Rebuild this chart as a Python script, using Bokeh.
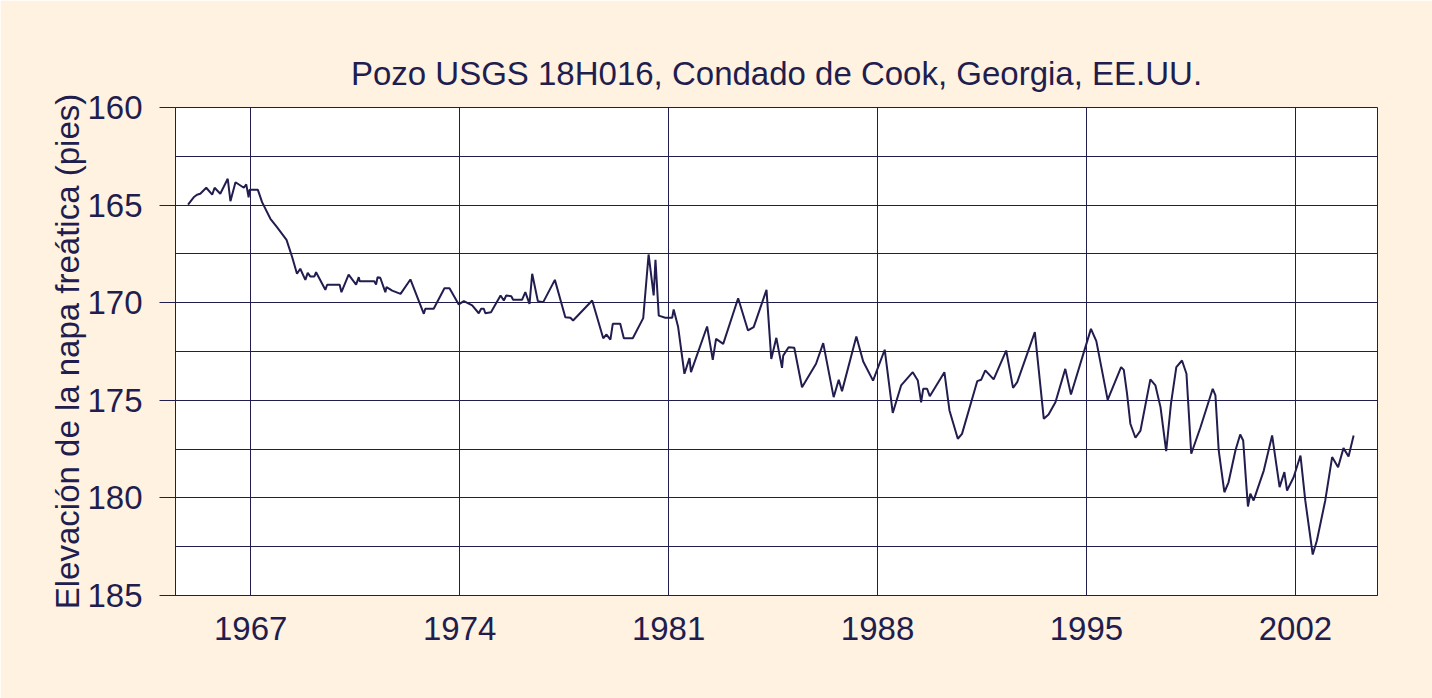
from bokeh.plotting import figure
from bokeh.models import Range1d, FixedTicker
from bokeh.embed import file_html
from bokeh.resources import INLINE

NAVY = "#211D4E"
CREAM = "#FFF2E0"
FONT = "Liberation Sans"

title_text = "Pozo USGS 18H016, Condado de Cook, Georgia, EE.UU."
y_label = "Elevación de la napa freática (pies)"

x_ticks = [1967, 1974, 1981, 1988, 1995, 2002]
y_ticks = [160, 165, 170, 175, 180, 185]
y_minor = [162.5, 167.5, 172.5, 177.5, 182.5]

years = [
    1964.90, 1965.09, 1965.20, 1965.31, 1965.51, 1965.71, 1965.79, 1965.98, 1966.23, 1966.32,
    1966.49, 1966.77, 1966.85, 1966.93, 1966.96, 1967.24, 1967.38, 1967.66, 1967.88, 1968.20,
    1968.39, 1968.55, 1968.66, 1968.83, 1968.91, 1969.00, 1969.13, 1969.19, 1969.50, 1969.56,
    1969.98, 1970.04, 1970.28, 1970.53, 1970.62, 1970.65, 1971.14, 1971.20, 1971.25, 1971.34,
    1971.51, 1971.55, 1971.74, 1972.02, 1972.35, 1972.80, 1972.85, 1973.13, 1973.49, 1973.66,
    1973.97, 1974.14, 1974.42, 1974.64, 1974.72, 1974.81, 1974.86, 1975.05, 1975.37, 1975.48,
    1975.56, 1975.73, 1975.79, 1976.09, 1976.20, 1976.34, 1976.43, 1976.62, 1976.80, 1977.19,
    1977.54, 1977.71, 1977.80, 1978.44, 1978.81, 1978.92, 1979.05, 1979.13, 1979.38, 1979.50,
    1979.80, 1980.15, 1980.33, 1980.50, 1980.56, 1980.67, 1980.89, 1981.12, 1981.17, 1981.32,
    1981.53, 1981.70, 1981.75, 1982.29, 1982.48, 1982.59, 1982.83, 1983.33, 1983.66, 1983.85,
    1984.28, 1984.44, 1984.61, 1984.80, 1984.84, 1985.02, 1985.21, 1985.47, 1985.94, 1986.18,
    1986.53, 1986.70, 1986.81, 1987.29, 1987.52, 1987.85, 1988.24, 1988.51, 1988.79, 1989.18,
    1989.35, 1989.46, 1989.53, 1989.66, 1989.75, 1990.24, 1990.41, 1990.69, 1990.83, 1991.34,
    1991.47, 1991.61, 1991.89, 1992.31, 1992.54, 1992.68, 1993.27, 1993.57, 1993.73, 1993.96,
    1994.29, 1994.48, 1995.15, 1995.33, 1995.71, 1996.16, 1996.25, 1996.36, 1996.47, 1996.64,
    1996.81, 1997.14, 1997.31, 1997.48, 1997.67, 1997.83, 1998.01, 1998.20, 1998.35, 1998.51,
    1998.82, 1999.23, 1999.32, 1999.43, 1999.62, 1999.76, 1999.99, 2000.15, 2000.25, 2000.36,
    2000.41, 2000.49, 2000.60, 2000.94, 2001.22, 2001.47, 2001.63, 2001.72, 2001.94, 2002.17,
    2002.33, 2002.58, 2002.72, 2003.00, 2003.23, 2003.43, 2003.61, 2003.78, 2003.95,
]

elevation = [
    164.98, 164.60, 164.47, 164.42, 164.11, 164.46, 164.11, 164.42, 163.65, 164.80,
    163.83, 164.11, 163.94, 164.60, 164.22, 164.22, 164.85, 165.70, 166.13, 166.78,
    167.67, 168.52, 168.26, 168.83, 168.47, 168.66, 168.66, 168.44, 169.34, 169.08,
    169.08, 169.46, 168.56, 169.07, 168.69, 168.90, 168.90, 169.07, 168.69, 168.72,
    169.46, 169.20, 169.38, 169.55, 168.81, 170.57, 170.31, 170.31, 169.26, 169.26,
    170.09, 169.92, 170.14, 170.54, 170.31, 170.31, 170.54, 170.49, 169.63, 169.89,
    169.63, 169.67, 169.85, 169.85, 169.46, 170.06, 168.52, 169.92, 169.97, 168.83,
    170.74, 170.77, 170.91, 169.89, 171.82, 171.63, 171.89, 171.08, 171.08, 171.82,
    171.82, 170.79, 167.53, 169.63, 167.80, 170.66, 170.77, 170.77, 170.35, 171.25,
    173.64, 172.84, 173.56, 171.22, 172.93, 171.85, 172.11, 169.77, 171.42, 171.25,
    169.34, 172.88, 171.80, 173.34, 172.71, 172.28, 172.31, 174.33, 173.13, 172.07,
    174.84, 173.95, 174.53, 171.73, 173.01, 173.99, 172.41, 175.65, 174.24, 173.56,
    173.99, 175.10, 174.41, 174.41, 174.79, 173.56, 175.52, 176.97, 176.72, 174.02,
    173.95, 173.47, 173.93, 172.45, 174.36, 174.07, 171.51, 175.95, 175.73, 175.10,
    173.39, 174.70, 171.34, 171.97, 174.98, 173.30, 173.44, 174.67, 176.20, 176.92,
    176.55, 173.93, 174.24, 175.35, 177.61, 175.18, 173.30, 172.96, 173.64, 177.74,
    176.38, 174.41, 174.75, 177.57, 179.71, 179.20, 177.57, 176.75, 177.06, 179.45,
    180.44, 179.79, 180.13, 178.60, 176.80, 179.45, 178.68, 179.62, 178.94, 177.83,
    180.13, 182.90, 182.18, 180.13, 177.91, 178.43, 177.45, 177.88, 176.80,
]

p = figure(
    width=1432, height=698,
    output_backend="svg", toolbar_location=None,
    x_range=Range1d(1964.48, 2004.75),
    y_range=Range1d(185, 160),
    min_border_left=175, min_border_right=55,
    min_border_top=107, min_border_bottom=103,
    background_fill_color="white",
    border_fill_color=CREAM,
    outline_line_color=NAVY, outline_line_width=1,
)

p.title.text = title_text
p.title.align = "center"
p.title.text_font = FONT
p.title.text_font_size = "33px"
p.title.text_font_style = "normal"
p.title.text_color = NAVY
p.title.standoff = 31

xa = p.xaxis[0]
xa.ticker = FixedTicker(ticks=x_ticks, minor_ticks=[])
xa.major_tick_out = 0
xa.major_tick_in = 0
xa.minor_tick_out = 0
xa.minor_tick_in = 0
xa.axis_line_color = NAVY
xa.major_label_text_font = FONT
xa.major_label_text_font_size = "33px"
xa.major_label_text_color = NAVY
xa.major_label_standoff = 21

ya = p.yaxis[0]
ya.ticker = FixedTicker(ticks=y_ticks, minor_ticks=y_minor)
ya.major_tick_out = 16
ya.major_tick_in = 0
ya.minor_tick_out = 0
ya.minor_tick_in = 0
ya.major_tick_line_color = NAVY
ya.axis_line_color = NAVY
ya.major_label_text_font = FONT
ya.major_label_text_font_size = "33px"
ya.major_label_text_color = NAVY
ya.major_label_standoff = 17
ya.axis_label = y_label
ya.axis_label_text_font = FONT
ya.axis_label_text_font_size = "33px"
ya.axis_label_text_font_style = "normal"
ya.axis_label_text_color = NAVY
ya.axis_label_standoff = -2

p.xgrid.grid_line_color = NAVY
p.xgrid.grid_line_width = 1
p.ygrid.grid_line_color = NAVY
p.ygrid.grid_line_width = 1
p.ygrid.minor_grid_line_color = NAVY
p.ygrid.minor_grid_line_width = 1

p.line(years, elevation, line_color=NAVY, line_width=2)

open("out.html", "w").write(file_html(p, INLINE))
